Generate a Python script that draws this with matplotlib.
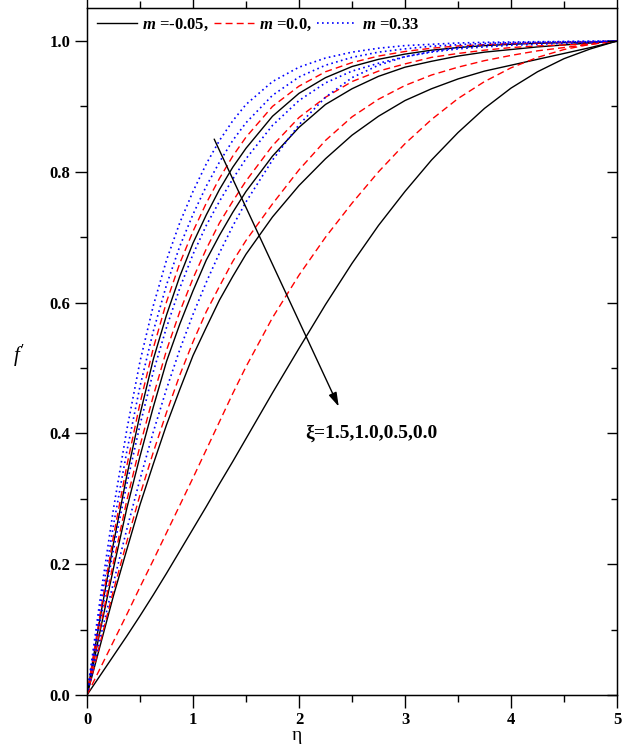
import matplotlib
matplotlib.use('Agg')
import matplotlib.pyplot as plt
from matplotlib.ticker import MultipleLocator, FormatStrFormatter

## velocity profiles f' vs eta for three m values, four xi values each
eta = [0, 0.125, 0.25, 0.375, 0.5, 0.625, 0.75, 0.875, 1.0, 1.125, 1.25, 1.375, 1.5,
       1.75, 2.0, 2.25, 2.5, 2.75, 3.0, 3.25, 3.5, 3.75, 4.0, 4.25, 4.5, 4.75, 5.0]

# m = -0.05 (black solid), xi = 1.5, 1.0, 0.5, 0.0
k_15 = [0, .119, .232, .335, .429, .513, .581, .640, .691, .734, .773, .807, .836,
        .885, .920, .944, .961, .972, .980, .986, .990, .993, .995, .9965, .9975, .998, 1.0]
k_10 = [0, .099, .194, .285, .365, .440, .510, .567, .618, .665, .703, .738, .770,
        .824, .868, .903, .927, .946, .960, .969, .977, .983, .987, .991, .994, .997, 1.0]
k_05 = [0, .076, .152, .222, .291, .353, .413, .467, .519, .562, .604, .640, .674,
        .731, .779, .820, .856, .885, .909, .927, .942, .954, .963, .972, .981, .990, 1.0]
k_00 = [0, .030, .060, .090, .121, .153, .186, .220, .254, .288, .323, .357, .392,
        .462, .530, .597, .660, .718, .770, .818, .860, .897, .928, .953, .973, .988, 1.0]

# m = 0.0 (red dashed)
r_15 = [0, .125, .243, .350, .446, .530, .601, .660, .709, .752, .790, .824, .853,
        .900, .931, .953, .967, .977, .984, .989, .9925, .9945, .996, .997, .998, .9986, 1.0]
r_10 = [0, .103, .203, .297, .381, .457, .527, .586, .637, .682, .722, .755, .786,
        .840, .883, .914, .938, .954, .965, .975, .981, .986, .990, .9925, .994, .9956, 1.0]
r_05 = [0, .080, .160, .234, .306, .371, .432, .489, .540, .586, .625, .663, .695,
        .751, .803, .848, .884, .911, .932, .948, .960, .970, .978, .985, .990, .995, 1.0]
r_00 = [0, .041, .082, .123, .165, .206, .248, .290, .332, .375, .418, .461, .502,
        .577, .642, .700, .752, .800, .843, .880, .912, .938, .959, .975, .987, .995, 1.0]

# m = 0.33 (blue dotted)
b_15 = [0, .148, .285, .405, .510, .595, .665, .722, .770, .812, .848, .878, .903,
        .938, .960, .974, .983, .989, .993, .995, .997, .998, .9985, .999, .9993, .9996, 1.0]
b_10 = [0, .135, .260, .372, .472, .556, .627, .686, .735, .778, .815, .848, .875,
        .917, .945, .963, .975, .983, .988, .992, .9944, .9963, .9975, .998, .9986, .999, 1.0]
b_05 = [0, .114, .222, .322, .413, .494, .562, .622, .674, .718, .755, .789, .820,
        .871, .909, .936, .954, .966, .976, .983, .988, .991, .9935, .995, .9966, .9976, 1.0]
b_00 = [0, .087, .172, .253, .330, .402, .468, .528, .582, .631, .676, .717, .754,
        .818, .872, .914, .944, .963, .976, .984, .990, .994, .996, .998, .999, .9995, 1.0]

m_labels = ['-0.05,', '0.0,', '0.33']
xi_text = '\u03be=1.5,1.0,0.5,0.0'

plt.rcParams['font.family'] = ['Liberation Serif', 'DejaVu Serif']
plt.rcParams['mathtext.fontset'] = 'custom'
plt.rcParams['mathtext.rm'] = 'Liberation Serif'
plt.rcParams['mathtext.it'] = 'Liberation Serif:italic'
plt.rcParams['mathtext.bf'] = 'Liberation Serif:bold'
plt.rcParams['mathtext.bfit'] = 'Liberation Serif:italic:bold'

fig = plt.figure(figsize=(6.26, 7.44), dpi=100)
ax = fig.add_axes([87/626, 49/744, 530/626, 687/744])

groups = [([k_15, k_10, k_05, k_00], 'black', 1.0, None, m_labels[0]),
          ([r_15, r_10, r_05, r_00], 'red', 1.0, (5, 3), m_labels[1]),
          ([b_15, b_10, b_05, b_00], 'blue', 1.2, (1, 2), m_labels[2])]
for curves, col, lw, dash, lab in groups:
	for i, f in enumerate(curves):
		line, = ax.plot(eta, f, color=col, lw=lw)
		if dash is not None:
			line.set_dashes(dash)
		if i == 0:
			line.set_label(r'$\boldsymbol{m}$ =' + lab)

ax.set_xlim(0, 5)
ax.set_ylim(0, 1.0505)
ax.xaxis.set_major_locator(MultipleLocator(1))
ax.xaxis.set_minor_locator(MultipleLocator(0.5))
ax.yaxis.set_major_locator(MultipleLocator(0.2))
ax.yaxis.set_minor_locator(MultipleLocator(0.1))
ax.xaxis.set_major_formatter(FormatStrFormatter('%d'))
ax.yaxis.set_major_formatter(FormatStrFormatter('%.1f'))

ax.tick_params(which='both', direction='out', width=1.0, top=True, right=False)
ax.tick_params(which='major', length=9)
ax.tick_params(which='minor', length=5)
ax.tick_params(axis='both', labelsize=12, pad=3)
for lab in ax.get_xticklabels() + ax.get_yticklabels():
	lab.set_fontweight('bold')
for s in ax.spines.values():
	s.set_linewidth(1.0)

# right axis ticks point inward
ax2 = ax.twinx()
ax2.set_ylim(ax.get_ylim())
ax2.yaxis.set_major_locator(MultipleLocator(0.2))
ax2.yaxis.set_minor_locator(MultipleLocator(0.1))
ax2.tick_params(which='both', direction='in', width=1.0, labelright=False)
ax2.tick_params(which='major', length=7)
ax2.tick_params(which='minor', length=4)

ax.legend(loc='center left', bbox_to_anchor=(10/530, 1 - 17/687), ncol=3, frameon=False,
	borderpad=0, borderaxespad=0, handlelength=2.4, handletextpad=0.3, columnspacing=0.3,
	prop={'family': 'Liberation Serif', 'weight': 'bold', 'size': 12})

ax.annotate('', xy=(2.375, 0.441), xytext=(1.2, 0.85),
	arrowprops=dict(arrowstyle='-|>,head_length=0.6,head_width=0.18', color='black', lw=1.0,
	mutation_scale=14, shrinkA=0, shrinkB=0))
ax.text(2.06, 0.40, xi_text, ha='left', va='center', fontsize=14, fontweight='bold')

fig.text(19/626, 1 - 356/744, r"$f'$", ha='center', va='center', fontsize=15)
fig.text(297/626, 1 - 736/744, '\u03b7', ha='center', va='center', fontsize=14)

plt.savefig('out.png', dpi=100)
